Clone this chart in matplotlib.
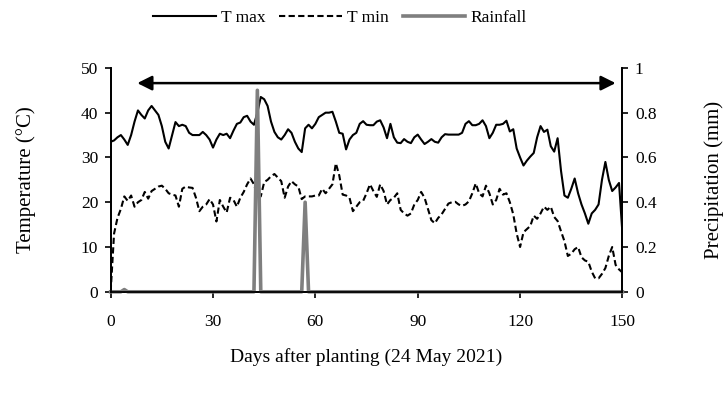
import numpy as np
import matplotlib
matplotlib.use("Agg")
import matplotlib.pyplot as plt
from matplotlib.ticker import FuncFormatter

plt.rcParams["font.family"] = ["Liberation Serif", "DejaVu Serif"]

# daily weather after planting (24 May 2021)
days = np.arange(0, 151)
t_max = [33.5, 33.8, 34.5, 35.0, 34.0, 32.8, 35.0, 38.0, 40.5, 39.5,
         38.7, 40.5, 41.5, 40.5, 39.5, 37.0, 33.5, 32.0, 35.0, 37.9,
         37.0, 37.3, 37.0, 35.5, 35.0, 35.0, 35.0, 35.7, 35.0, 34.0,
         32.2, 34.0, 35.3, 35.0, 35.3, 34.3, 36.0, 37.5, 37.8, 39.0,
         39.3, 38.0, 37.3, 40.0, 43.5, 43.0, 41.5, 38.0, 35.7, 34.5,
         34.0, 35.0, 36.3, 35.5, 33.5, 32.0, 31.2, 36.5, 37.3, 36.5,
         37.5, 39.0, 39.5, 40.0, 40.0, 40.2, 38.0, 35.5, 35.3, 31.8,
         34.0, 35.0, 35.5, 37.5, 38.1, 37.3, 37.2, 37.2, 38.0, 38.3,
         36.7, 34.3, 37.5, 34.5, 33.3, 33.2, 34.1, 33.5, 33.2, 34.5,
         35.1, 34.0, 33.0, 33.5, 34.1, 33.5, 33.3, 34.5, 35.2, 35.1,
         35.1, 35.1, 35.1, 35.5, 37.5, 38.1, 37.2, 37.2, 37.5, 38.3,
         37.0, 34.3, 35.5, 37.3, 37.3, 37.5, 38.2, 35.8, 36.3, 32.0,
         30.0, 28.2, 29.3, 30.2, 31.0, 34.5, 37.0, 35.7, 36.2, 32.5,
         31.3, 34.3, 27.0, 21.5, 21.0, 23.0, 25.3, 22.0, 19.5, 17.5,
         15.2, 17.5, 18.3, 19.5, 25.0, 29.0, 25.0, 22.5, 23.3, 24.3,
         13.0]
t_min = [0.0, 13.0, 16.5, 18.5, 21.3, 20.3, 21.5, 19.0, 20.0, 20.5,
         22.3, 20.8, 22.5, 23.0, 23.5, 23.7, 23.0, 22.0, 21.7, 21.5,
         19.0, 23.0, 23.5, 23.3, 23.2, 21.0, 18.0, 19.0, 19.5, 20.7,
         19.5, 15.7, 20.5, 19.0, 17.7, 21.0, 20.5, 19.0, 21.0, 22.3,
         24.0, 25.3, 24.0, 21.5, 21.3, 24.5, 25.0, 25.8, 26.3, 25.5,
         24.7, 21.0, 23.5, 24.7, 24.0, 23.5, 20.7, 21.3, 21.3, 21.3,
         21.5, 21.5, 23.0, 22.0, 23.0, 24.0, 28.7, 26.0, 21.7, 21.5,
         21.0, 18.0, 19.0, 20.0, 20.3, 22.0, 24.0, 22.5, 21.2, 24.0,
         22.5, 19.5, 20.5, 21.0, 22.0, 18.3, 17.5, 17.0, 17.5, 19.5,
         20.5, 22.3, 21.0, 18.5, 16.0, 15.3, 16.5, 17.3, 18.5, 19.7,
         20.0, 20.1, 19.5, 19.2, 19.5, 20.2, 22.0, 24.2, 22.0, 21.3,
         23.7, 22.0, 19.5, 20.5, 23.0, 21.7, 22.0, 20.0, 17.3, 13.0,
         10.0, 13.3, 14.0, 14.7, 17.0, 16.3, 17.5, 19.0, 18.3, 19.0,
         16.7, 15.8, 13.5, 11.3, 8.0, 8.5, 9.5, 10.0, 7.7, 7.0,
         6.7, 4.5, 3.0, 3.0, 4.0, 5.3, 8.0, 10.0, 6.0, 5.0,
         4.3]
rain = np.zeros(151)
rain_days = [4, 43, 57]
rain_mm = [0.01, 0.9, 0.4]
rain[rain_days] = rain_mm

# growing period arrow (days, at temperature level)
span_start, span_end, span_level = 7.8, 148, 46.6

GREY = "#7f7f7f"

fig = plt.figure(figsize=(7.28, 3.97), dpi=100)
ax = fig.add_axes([0.152, 0.265, 0.703, 0.564])
ax2 = ax.twinx()

l1, = ax.plot(days, t_max, color="black", lw=1.5, label="T max")
l2, = ax.plot(days, t_min, color="black", lw=1.5, ls=(0, (3, 1.6)), label="T min")
l3, = ax2.plot(days, rain, color=GREY, lw=2.6, label="Rainfall", clip_on=False)

ax.annotate("", xy=(span_end, span_level), xytext=(span_start, span_level),
            arrowprops=dict(arrowstyle="<|-|>", color="black", lw=1.8,
                            mutation_scale=22, shrinkA=0, shrinkB=0))

ax.set_xlim(0, 150)
ax.set_xticks(np.arange(0, 151, 30))
ax.set_ylim(0, 50)
ax.set_yticks(np.arange(0, 51, 10))
ax2.set_ylim(0, 1)
ax2.set_yticks(np.arange(0, 1.01, 0.2))
ax2.yaxis.set_major_formatter(FuncFormatter(lambda v, p: "%g" % round(v, 1)))

for a in (ax, ax2):
    a.spines["top"].set_visible(False)
    a.tick_params(labelsize=12.5, length=4, width=1.2, direction="out", pad=5)
    for s in a.spines.values():
        s.set_linewidth(1.3)
ax.tick_params(axis="x", pad=12)

ax.set_ylabel("Temperature (°C)", fontsize=15, labelpad=32)
ax2.set_ylabel("Precipitation (mm)", fontsize=15, labelpad=34)
ax.set_xlabel("Days after planting (24 May 2021)", fontsize=14, labelpad=13)

fig.legend(handles=[l1, l2, l3], loc="upper center", bbox_to_anchor=(0.467, 1.015),
           ncol=3, frameon=False, fontsize=12.5, handlelength=3.6,
           handletextpad=0.3, columnspacing=0.8)

fig.savefig("out.png", dpi=100)
